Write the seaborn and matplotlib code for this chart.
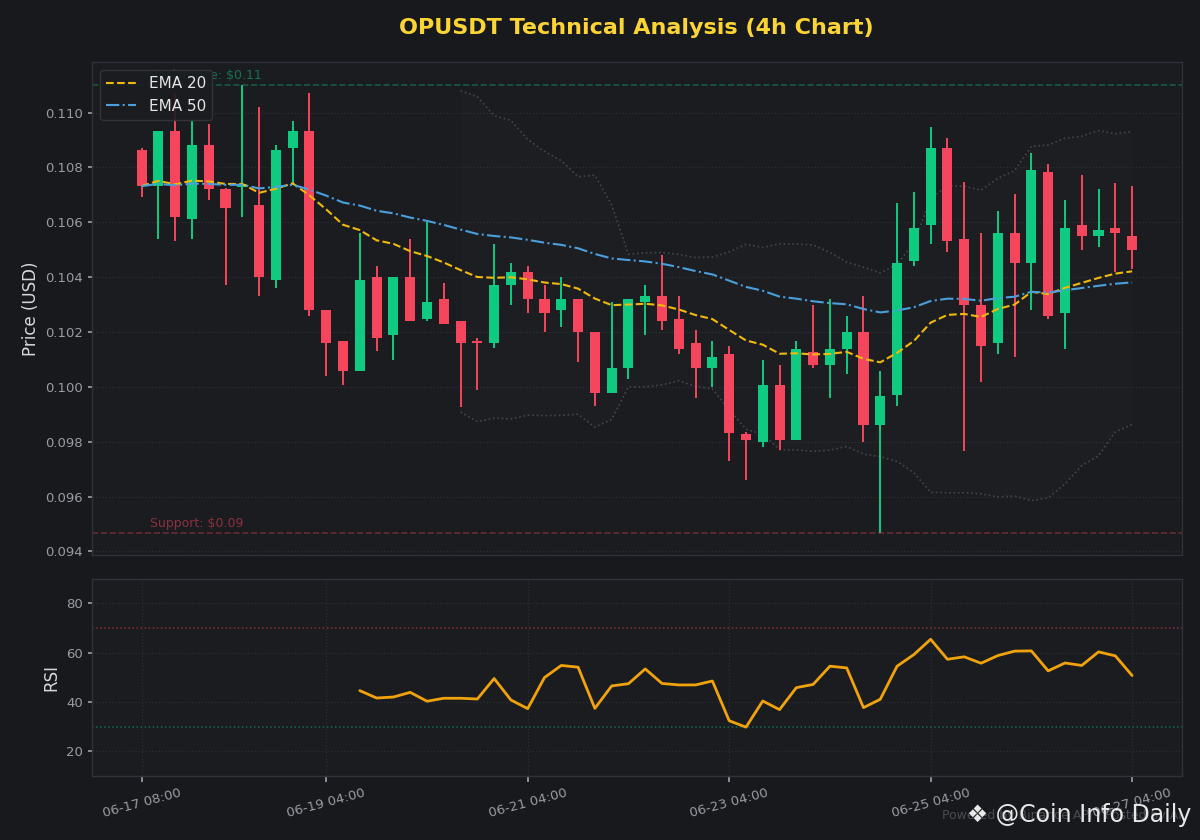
import numpy as np
import pandas as pd
import seaborn as sns
import matplotlib.pyplot as plt

# 4h candles, OPUSDT
times = pd.date_range("2025-06-17 08:00", periods=60, freq="4h")
opens = [0.10862, 0.10732, 0.10931, 0.10612, 0.10880, 0.10720, 0.10730, 0.10662, 0.10390, 0.10870,
         0.10931, 0.10280, 0.10167, 0.10058, 0.10400, 0.10190, 0.10400, 0.10248, 0.10320, 0.10240,
         0.10167, 0.10161, 0.10371, 0.10418, 0.10320, 0.10281, 0.10320, 0.10200, 0.09979, 0.10069,
         0.10309, 0.10331, 0.10247, 0.10160, 0.10069, 0.10120, 0.09829, 0.09798, 0.10007, 0.09806,
         0.10127, 0.10080, 0.10138, 0.10200, 0.09860, 0.09969, 0.10458, 0.10589, 0.10869, 0.10538,
         0.10298, 0.10161, 0.10560, 0.10452, 0.10782, 0.10270, 0.10589, 0.10550, 0.10578, 0.10549]
highs = [0.10870, 0.10931, 0.11073, 0.10971, 0.10960, 0.10725, 0.11102, 0.11022, 0.10880, 0.10971,
         0.11073, 0.10280, 0.10167, 0.10561, 0.10440, 0.10400, 0.10538, 0.10601, 0.10378, 0.10240,
         0.10178, 0.10520, 0.10452, 0.10440, 0.10371, 0.10400, 0.10320, 0.10200, 0.10309, 0.10320,
         0.10371, 0.10480, 0.10331, 0.10207, 0.10167, 0.10149, 0.09836, 0.10098, 0.10080, 0.10167,
         0.10298, 0.10320, 0.10258, 0.10331, 0.10059, 0.10670, 0.10709, 0.10949, 0.10909, 0.10748,
         0.10560, 0.10640, 0.10702, 0.10851, 0.10811, 0.10680, 0.10771, 0.10720, 0.10742, 0.10731]
lows = [0.10692, 0.10539, 0.10532, 0.10539, 0.10681, 0.10372, 0.10619, 0.10332, 0.10361, 0.10737,
        0.10259, 0.10041, 0.10007, 0.10058, 0.10130, 0.10099, 0.10241, 0.10241, 0.10230, 0.09928,
        0.09990, 0.10141, 0.10298, 0.10271, 0.10201, 0.10219, 0.10089, 0.09930, 0.09979, 0.10030,
        0.10190, 0.10206, 0.10121, 0.09961, 0.10001, 0.09729, 0.09659, 0.09780, 0.09769, 0.09806,
        0.10069, 0.09961, 0.10048, 0.09798, 0.09468, 0.09930, 0.10440, 0.10520, 0.10492, 0.09768,
        0.10019, 0.10121, 0.10110, 0.10281, 0.10248, 0.10139, 0.10499, 0.10510, 0.10417, 0.10428]
closes = [0.10732, 0.10931, 0.10619, 0.10880, 0.10721, 0.10652, 0.10740, 0.10401, 0.10862, 0.10931,
          0.10281, 0.10161, 0.10058, 0.10389, 0.10179, 0.10400, 0.10241, 0.10309, 0.10230, 0.10161,
          0.10161, 0.10371, 0.10418, 0.10320, 0.10271, 0.10320, 0.10201, 0.09979, 0.10069, 0.10320,
          0.10331, 0.10241, 0.10139, 0.10069, 0.10109, 0.09831, 0.09806, 0.10007, 0.09806, 0.10138,
          0.10080, 0.10138, 0.10200, 0.09860, 0.09968, 0.10452, 0.10578, 0.10869, 0.10532, 0.10299,
          0.10150, 0.10560, 0.10452, 0.10789, 0.10259, 0.10578, 0.10550, 0.10571, 0.10561, 0.10499]

# RSI, starts at candle 13
rsi_start = 13
rsi_values = [44.6, 41.6, 42.0, 43.9, 40.3, 41.5, 41.5, 41.2, 49.5, 40.8,
              37.3, 49.9, 54.8, 54.1, 37.4, 46.5, 47.4, 53.4, 47.5, 46.9,
              46.9, 48.5, 32.4, 29.8, 40.4, 36.9, 45.8, 47.1, 54.5, 53.8,
              37.7, 41.1, 54.5, 59.2, 65.4, 57.3, 58.3, 55.7, 58.8, 60.6,
              60.7, 52.6, 55.8, 54.8, 60.3, 58.7, 50.7]
tick_idx = [0, 11, 23, 35, 47, 59]

BG = "#18191d"
PANEL = "#1b1c20"
GREEN = "#0ecb81"
RED = "#f6465d"
GRID = "#2c2e34"
TXT = "#9a9ca3"

df = pd.DataFrame({"open": opens, "high": highs, "low": lows, "close": closes})
df["x"] = np.arange(len(df))
df["ema20"] = df["close"].ewm(span=20, adjust=False).mean()
df["ema50"] = df["close"].ewm(span=50, adjust=False).mean()
mid = df["close"].rolling(20).mean()
sd = df["close"].rolling(20).std()
df["bb_up"] = mid + 2 * sd
df["bb_lo"] = mid - 2 * sd
up = df["close"] >= df["open"]
colors = np.where(up, GREEN, RED)

rsi_df = pd.DataFrame({"x": np.arange(rsi_start, rsi_start + len(rsi_values)), "rsi": rsi_values})

sns.set_theme(style="dark")
plt.rcParams["font.family"] = ["DejaVu Sans"]

fig = plt.figure(figsize=(12, 8.4), dpi=100, facecolor=BG)
ax = fig.add_axes([0.0767, 0.339, 0.908, 0.587], facecolor=PANEL)
ax2 = fig.add_axes([0.0767, 0.0762, 0.908, 0.235], facecolor=PANEL, sharex=ax)

# bollinger band area
ok = df["bb_up"].notna()
ax.fill_between(df["x"][ok], df["bb_lo"][ok], df["bb_up"][ok], color="#ffffff", alpha=0.012,
                linewidth=0.8, edgecolor="#26282d")
ax.plot(df["x"][ok], df["bb_up"][ok], color="#55575d", linestyle=":", linewidth=1.2, alpha=0.7)
ax.plot(df["x"][ok], df["bb_lo"][ok], color="#55575d", linestyle=":", linewidth=1.2, alpha=0.7)

# candles
ax.vlines(df["x"], df["low"], df["high"], colors=colors, linewidth=1.4, zorder=2)
body = np.maximum((df["close"] - df["open"]).abs(), 0.00003)
ax.bar(df["x"], body, bottom=np.minimum(df["open"], df["close"]), width=0.6, color=colors,
       edgecolor=colors, linewidth=0, zorder=3)

sns.lineplot(data=df, x="x", y="ema20", ax=ax, color="#f0b90b", linestyle="--", linewidth=1.5, label="EMA 20", zorder=4)
sns.lineplot(data=df, x="x", y="ema50", ax=ax, color="#4a9fdc", linestyle="-.", linewidth=1.5, label="EMA 50", zorder=4)

res = df["high"].max()
sup = df["low"].min()
ax.axhline(res, color=GREEN, linestyle="--", linewidth=1.2, alpha=0.35)
ax.axhline(sup, color=RED, linestyle="--", linewidth=1.2, alpha=0.35)
ax.text(0.5, res + 0.0001, f"Resistance: ${res:.2f}", color=GREEN, alpha=0.5, fontsize=9, va="bottom")
ax.text(0.5, sup + 0.0001, f"Support: ${sup:.2f}", color=RED, alpha=0.5, fontsize=9, va="bottom")

ax.margins(x=0.05, y=0.05)
ax.set_xlim(-2.95, 61.95)
ax.yaxis.set_major_formatter(plt.FormatStrFormatter("%.3f"))
ax.set_ylabel("Price (USD)", color="#d8d8d8", fontsize=12)
ax.set_xlabel("")
ax.grid(axis="y", color=GRID, linestyle=":", linewidth=0.9)
ax.grid(axis="x", visible=False)
ax.tick_params(axis="y", colors=TXT, labelsize=9.5, length=3, left=True)
ax.tick_params(axis="x", bottom=False, labelbottom=False)
leg = ax.legend(loc="upper left", fontsize=11, facecolor="#1b1c20", edgecolor="#34363c", framealpha=0.9, labelcolor="#e6e6e6")

# RSI panel
ax2.axhline(70, color=RED, linestyle=":", linewidth=1.1, alpha=0.45)
ax2.axhline(30, color=GREEN, linestyle=":", linewidth=1.1, alpha=0.45)
sns.lineplot(data=rsi_df, x="x", y="rsi", ax=ax2, color="#f0a30a", linewidth=2)
ax2.set_ylim(10, 90)
ax2.set_yticks([20, 40, 60, 80])
ax2.set_ylabel("RSI", color="#d8d8d8", fontsize=12)
ax2.set_xlabel("")
ax2.grid(True, color=GRID, linestyle=":", linewidth=0.9)
ax2.set_xticks(tick_idx)
ax2.set_xticklabels([times[i].strftime("%m-%d %H:%M") for i in tick_idx], rotation=15)
ax2.tick_params(axis="y", colors=TXT, labelsize=9.5, length=3, left=True)
ax2.tick_params(axis="x", colors=TXT, labelsize=9.5, length=4, bottom=True)

for a in (ax, ax2):
    for s in a.spines.values():
        s.set_color("#30323a")
        s.set_linewidth(1)

fig.text(0.53, 0.967, "OPUSDT Technical Analysis (4h Chart)", color="#fcd535", fontsize=16,
         fontweight="bold", ha="center", va="center")
fig.text(0.985, 0.029, "Powered by Binance API | Posted by AI", color="#6b6d73", alpha=0.6,
         fontsize=9, ha="right", va="center")
fig.text(0.993, 0.03, "\u2756 @Coin Info Daily", color="#e8e8e8", fontsize=17, ha="right", va="center")

plt.savefig("out.png", dpi=100, facecolor=BG)
plt.close()
